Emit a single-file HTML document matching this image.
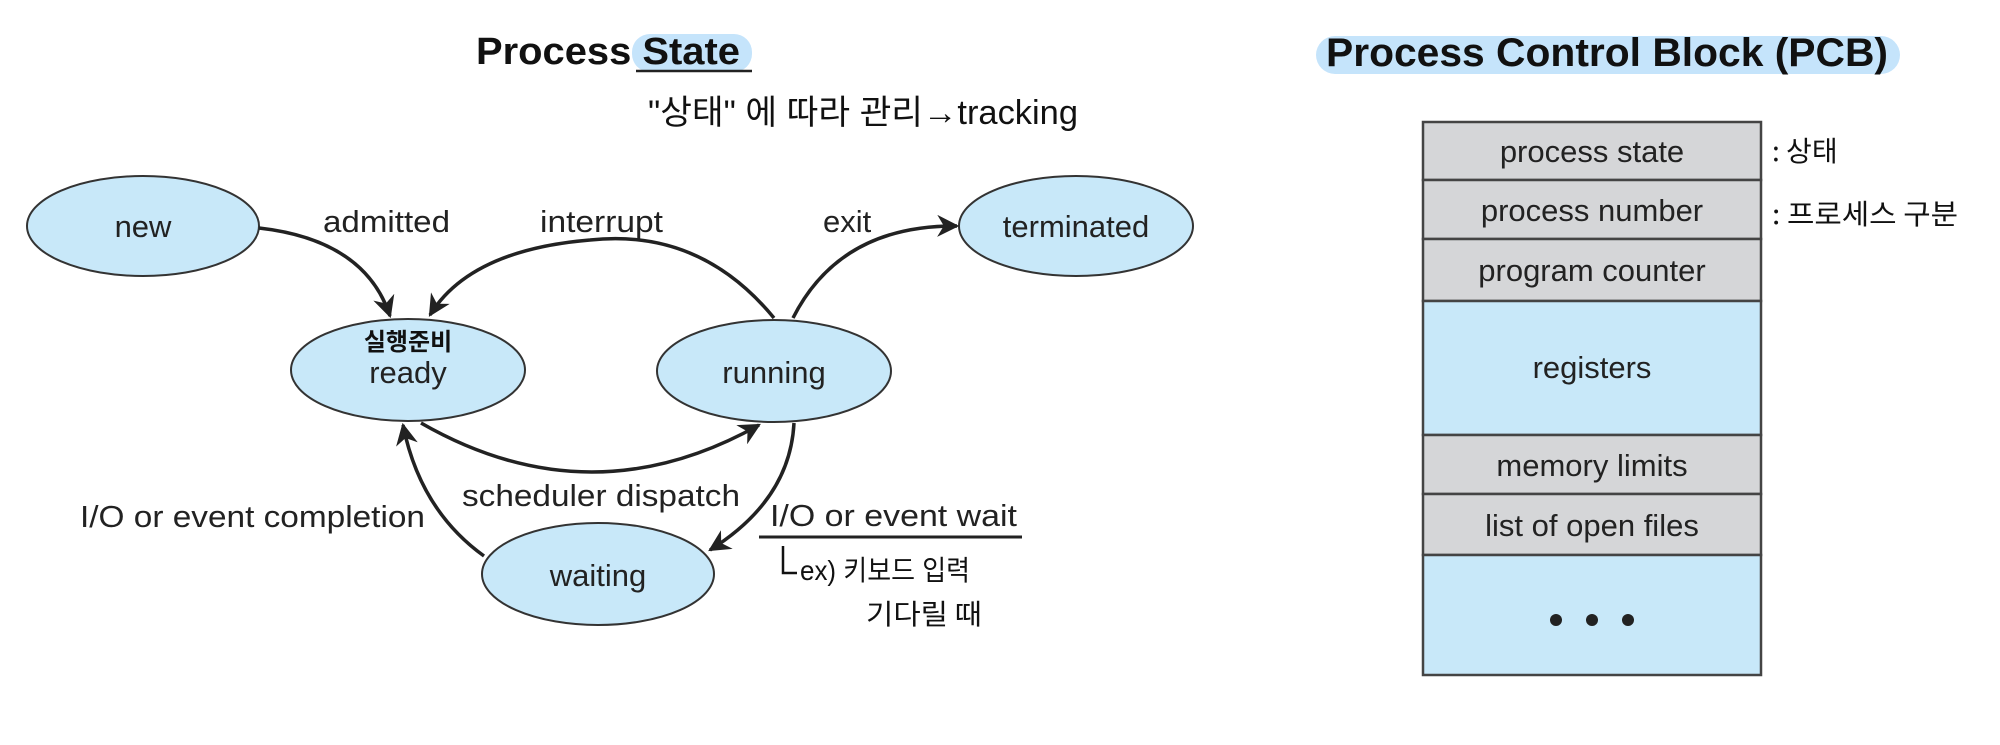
<!DOCTYPE html>
<html><head><meta charset="utf-8"><style>
html,body{margin:0;padding:0;background:#fff;}
svg{display:block;}
</style></head><body>
<svg width="2000" height="745" viewBox="0 0 2000 745" xmlns="http://www.w3.org/2000/svg">
<defs>
<marker id="ah2" viewBox="0 0 10 10" refX="9" refY="5" markerWidth="22" markerHeight="22" markerUnits="userSpaceOnUse" orient="auto">
<path d="M0,0 L10,5 L0,10 L3,5 Z" fill="#222"/>
</marker>
</defs>
<g font-family="Liberation Sans, sans-serif">
<!-- title -->
<rect x="632" y="34" width="120" height="38" rx="18" fill="#c5e4fb"/>
<text x="476" y="64" font-size="38" font-weight="bold" fill="#111" textLength="264" lengthAdjust="spacingAndGlyphs">Process State</text>
<line x1="636" y1="71" x2="752" y2="71" stroke="#222" stroke-width="2.5"/>
<text x="648" y="124" font-size="34" fill="#111" textLength="430" lengthAdjust="spacingAndGlyphs" font-family="Liberation Sans, 'Noto Sans CJK KR', sans-serif">"상태" 에 따라 관리→tracking</text>

<!-- ellipses -->
<g fill="#c8e8f9" stroke="#333" stroke-width="2">
<ellipse cx="143" cy="226" rx="116" ry="50"/>
<ellipse cx="408" cy="370" rx="117" ry="51"/>
<ellipse cx="774" cy="371" rx="117" ry="51"/>
<ellipse cx="1076" cy="226" rx="117" ry="50"/>
<ellipse cx="598" cy="574" rx="116" ry="51"/>
</g>
<g font-size="31" fill="#222" text-anchor="middle">
<text x="143" y="237">new</text>
<text x="408" y="383">ready</text>
<text x="774" y="383">running</text>
<text x="1076" y="237">terminated</text>
<text x="598" y="586">waiting</text>
</g>
<text x="408" y="350" font-size="24" font-weight="bold" text-anchor="middle" fill="#111" font-family="'Noto Sans CJK KR', sans-serif">실행준비</text>

<!-- arrows -->
<g fill="none" stroke="#222" stroke-width="3.5">
<path d="M259,228 Q365,240 390,316" marker-end="url(#ah2)"/>
<path d="M774,318 Q700,228 590,240 Q470,250 430,315" marker-end="url(#ah2)"/>
<path d="M793,318 Q840,225 957,226" marker-end="url(#ah2)"/>
<path d="M421,423 Q590,520 759,425" marker-end="url(#ah2)"/>
<path d="M794,423 Q790,500 710,550" marker-end="url(#ah2)"/>
<path d="M484,556 Q420,510 403,425" marker-end="url(#ah2)"/>
</g>
<g font-size="31" fill="#222">
<text x="323" y="232" textLength="127" lengthAdjust="spacingAndGlyphs">admitted</text>
<text x="540" y="232" textLength="123" lengthAdjust="spacingAndGlyphs">interrupt</text>
<text x="823" y="232">exit</text>
<text x="462" y="506" textLength="278" lengthAdjust="spacingAndGlyphs">scheduler dispatch</text>
<text x="80" y="527" textLength="345" lengthAdjust="spacingAndGlyphs">I/O or event completion</text>
<text x="770" y="526" textLength="247" lengthAdjust="spacingAndGlyphs">I/O or event wait</text>
</g>
<line x1="759" y1="537" x2="1022" y2="537" stroke="#222" stroke-width="3"/>
<path d="M783,546 L783,573 L797,573" fill="none" stroke="#111" stroke-width="2.5"/>
<text x="800" y="580" font-size="28" fill="#111" textLength="170" lengthAdjust="spacingAndGlyphs" font-family="Liberation Sans, 'Noto Sans CJK KR', sans-serif">ex) 키보드 입력</text>
<text x="866" y="624" font-size="28" fill="#111" textLength="116" lengthAdjust="spacingAndGlyphs" font-family="'Noto Sans CJK KR', sans-serif">기다릴 때</text>

<!-- PCB -->
<rect x="1316" y="36" width="584" height="38" rx="19" fill="#c5e4fb"/>
<text x="1326" y="66" font-size="40" font-weight="bold" fill="#111" textLength="562" lengthAdjust="spacingAndGlyphs">Process Control Block (PCB)</text>
<g stroke="#444" stroke-width="2.5">
<rect x="1423" y="122" width="338" height="58" fill="#d5d6d8"/>
<rect x="1423" y="180" width="338" height="59" fill="#d5d6d8"/>
<rect x="1423" y="239" width="338" height="62" fill="#d5d6d8"/>
<rect x="1423" y="301" width="338" height="134" fill="#c8e8f9"/>
<rect x="1423" y="435" width="338" height="59" fill="#d5d6d8"/>
<rect x="1423" y="494" width="338" height="61" fill="#d5d6d8"/>
<rect x="1423" y="555" width="338" height="120" fill="#c8e8f9"/>
</g>
<g font-size="31" fill="#222" text-anchor="middle">
<text x="1592" y="162">process state</text>
<text x="1592" y="221">process number</text>
<text x="1592" y="281">program counter</text>
<text x="1592" y="378">registers</text>
<text x="1592" y="476">memory limits</text>
<text x="1592" y="536">list of open files</text>
</g>
<g fill="#222">
<circle cx="1556" cy="620" r="6"/><circle cx="1592" cy="620" r="6"/><circle cx="1628" cy="620" r="6"/>
</g>
<text x="1772" y="161" font-size="28" fill="#111" font-family="'Noto Sans CJK KR', sans-serif">: 상태</text>
<text x="1772" y="224" font-size="28" fill="#111" textLength="186" lengthAdjust="spacingAndGlyphs" font-family="'Noto Sans CJK KR', sans-serif">: 프로세스 구분</text>
</g>
</svg>
</body></html>
